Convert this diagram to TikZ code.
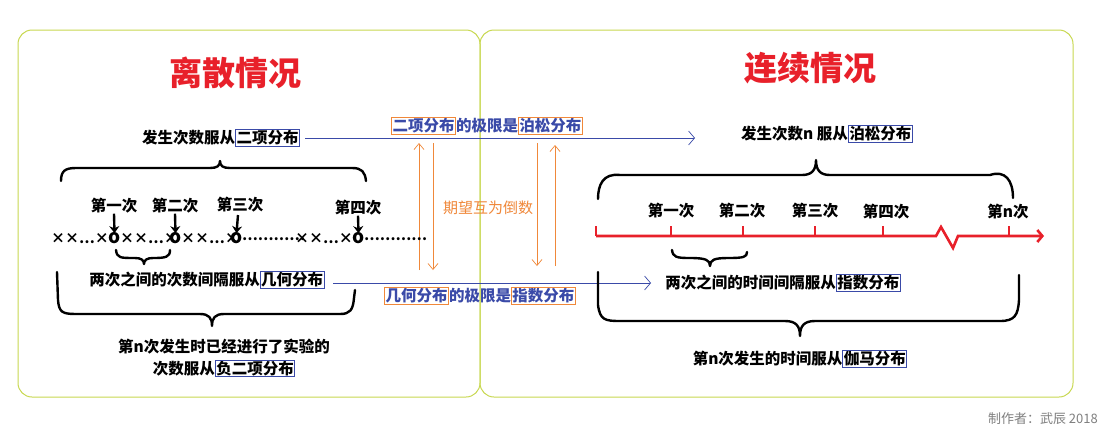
\documentclass[tikz,border=0pt]{standalone}
\usepackage{fontspec}
\setmainfont{Noto Sans CJK SC}
\usetikzlibrary{arrows.meta}
\definecolor{frame}{HTML}{C8D850}
\definecolor{bblue}{HTML}{3A4AA8}
\definecolor{borange}{HTML}{F0883A}
\definecolor{tred}{HTML}{E8202A}
\newcommand\bb[1]{{\setlength\fboxsep{0.5pt}\setlength\fboxrule{0.9pt}\fcolorbox{bblue}{white}{#1}}}
\newcommand\ob[1]{{\setlength\fboxsep{0.5pt}\setlength\fboxrule{0.9pt}\fcolorbox{borange}{white}{#1}}}
\begin{document}
\begin{tikzpicture}[x=1pt,y=-1pt,
  txt/.style={font=\fontsize{15.5}{18}\selectfont\bfseries, inner sep=0pt},
  lbl/.style={font=\fontsize{15.5}{18}\selectfont\bfseries, inner sep=0pt},
  row/.style={font=\fontsize{14}{16}\selectfont\bfseries, inner sep=0pt},
  oo/.style={font=\fontsize{19}{20}\selectfont\bfseries, inner sep=0pt},
  title/.style={font=\fontsize{33}{36}\selectfont\bfseries, text=tred},
  brace/.style={line width=2.4pt, line cap=round, line join=round},
  blue arrow/.style={draw=bblue, line width=0.7pt, -{Straight Barb[length=6pt,width=14pt]}},
  or arrow/.style={draw=borange, line width=0.7pt, -{Straight Barb[length=6pt,width=10pt]}},
  dn/.style={line width=2.4pt, -{Stealth[length=7pt,width=10pt]}},
  frm/.style={draw=frame, line width=1pt, rounded corners=14pt}]
\useasboundingbox (0,0) rectangle (1104,432);
\fill[white] (0,0) rectangle (1104,432);
\draw[frm] (18,30) rectangle (480,397);
\draw[frm] (480,30) rectangle (1073,397);
\node[title] (t1) at (235,73) {离散情况};
\node[title] (t2) at (810,68) {连续情况};
% top middle
\node[txt] (d1) at (221,138) {发生次数服从\bb{二项分布}};
\node[txt, text=bblue] (m1) at (487,126) {\ob{二项分布}的极限是\ob{泊松分布}};
\node[txt] (c1) at (827,134) {发生次数n 服从\bb{泊松分布}};
\coordinate (a1s) at (305,138); \coordinate (a1e) at (695,138);
\draw[blue arrow] (a1s) -- (a1e);
% orange arrows
\coordinate (o1a) at (419,270); \coordinate (o1b) at (419,143);
\coordinate (o2a) at (433,143); \coordinate (o2b) at (433,270);
\coordinate (o3a) at (537,143); \coordinate (o3b) at (537,266);
\coordinate (o4a) at (555,266); \coordinate (o4b) at (555,145);
\draw[or arrow] (o1a) -- (o1b);
\draw[or arrow] (o2a) -- (o2b);
\draw[or arrow] (o3a) -- (o3b);
\draw[or arrow] (o4a) -- (o4b);
\node[font=\fontsize{15}{17}\selectfont, text=borange, inner sep=0pt] (ex) at (488,208) {期望互为倒数};
% left top brace
\draw[brace] (61,181) .. controls (61,171) and (65,168) .. (76,168) -- (210,168) .. controls (217,168) and (220,166) .. (220,161) .. controls (220,166) and (223,168) .. (230,168) -- (352,168) .. controls (362,168) and (365,172) .. (366,181);
% left sequence
\node[lbl] (l1) at (114,206) {第一次};
\node[lbl] (l2) at (175,206) {第二次};
\node[lbl] (l3) at (240,205) {第三次};
\node[lbl] (l4) at (358,208) {第四次};
\node[row, anchor=east] (s1) at (109,239) {××…×};
\node[oo] (o1) at (114.5,238) {o};
\node[row, anchor=west] (s2) at (120,239) {××…×};
\node[oo] (o2) at (175.5,238) {o};
\node[row, anchor=west] (s3) at (181,239) {××…×};
\node[oo] (o3) at (236.5,238) {o};
\node[row, anchor=west] (s4) at (242,239) {…………};
\node[row, anchor=east] (s5) at (353,239) {××…×};
\node[oo] (o4) at (358.5,238) {o};
\node[row, anchor=west] (s6) at (364,239) {…………};
\draw[dn] (l1.south) -- ([yshift=-1pt]o1.north);
\draw[dn] (l2.south) -- ([yshift=-1pt]o2.north);
\draw[dn] (238,215) -- ([yshift=-1pt]o3.north);
\draw[dn] (l4.south) -- ([yshift=-1pt]o4.north);
\draw[brace] (116,250) .. controls (117,258) and (120,258) .. (135,258) .. controls (141,258) and (144,260) .. (144,264) .. controls (144,260) and (147,258) .. (153,258) .. controls (166,258) and (170,257) .. (170,250);
\node[txt] (d2) at (207,280) {两次之间的次数间隔服从\bb{几何分布}};
\coordinate (a2s) at (333,283); \coordinate (a2e) at (651,283);
\draw[blue arrow] (a2s) -- (a2e);
\node[txt, text=bblue] (m2) at (480,296) {\ob{几何分布}的极限是\ob{指数分布}};
% left bottom brace
\draw[brace] (57,272) -- (58,300) .. controls (59,312) and (62,314) .. (76,314) -- (200,314) .. controls (209,314) and (212,318) .. (212,326) .. controls (212,318) and (215,314) .. (224,314) -- (340,314) .. controls (350,314) and (353,310) .. (354,298) -- (355,290);
\node[txt, align=center] (d3) at (224,358) {第n次发生时已经进行了实验的\\[4pt]次数服从\bb{负二项分布}};
% right top brace
\draw[brace] (598,199) .. controls (598,185) and (603,173) .. (620,175) -- (802,175) .. controls (812,175) and (816,170) .. (816,160) .. controls (816,170) and (820,175) .. (830,175) -- (990,175) .. controls (1005,170) and (1013,180) .. (1013,198);
% red axis
\draw[line width=2.6pt, tred, -{Straight Barb[length=5pt,width=12pt]}] (596,236) -- (936,236) -- (941,227) -- (953,248) -- (958,236) -- (1044,236);
\foreach \x in {596,671,743,815,883,1009} \draw[line width=2.2pt, tred] (\x,236) -- (\x,226);
\node[lbl] (r1) at (671,211) {第一次};
\node[lbl] (r2) at (742,211) {第二次};
\node[lbl] (r3) at (815,211) {第三次};
\node[lbl] (r4) at (886,212) {第四次};
\node[lbl] (r5) at (1008,212) {第n次};
\draw[brace] (672,250) .. controls (673,257) and (676,258) .. (690,258) .. controls (706,258) and (710,260) .. (710,266) .. controls (710,260) and (714,258) .. (728,258) .. controls (744,258) and (747,257) .. (747,252);
\node[txt] (c2) at (783,283) {两次之间的时间间隔服从\bb{指数分布}};
% right bottom brace
\draw[brace] (598,272) -- (598,305) .. controls (600,320) and (605,321) .. (620,321) -- (785,321) .. controls (796,321) and (800,326) .. (800,336) .. controls (800,326) and (804,321) .. (815,321) -- (1000,321) .. controls (1015,321) and (1018,315) .. (1019,300) -- (1019,275);
\node[txt] (c3) at (800,359) {第n次发生的时间服从\bb{伽马分布}};
\node[font=\fontsize{13}{15}\selectfont, text=gray, anchor=east, inner sep=0pt] (auth) at (1098,419) {制作者：武辰 2018};
\end{tikzpicture}
\end{document}
